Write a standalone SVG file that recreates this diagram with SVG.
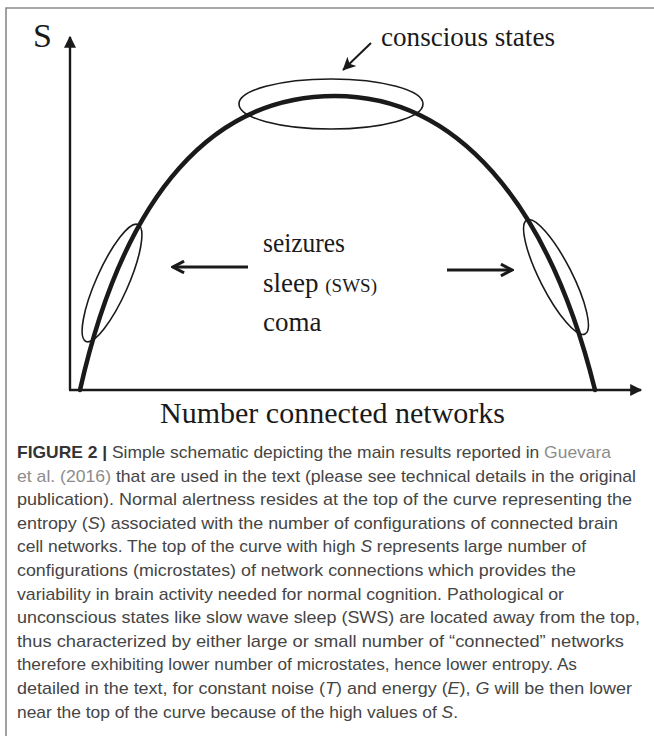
<svg xmlns="http://www.w3.org/2000/svg" width="654" height="736" viewBox="0 0 654 736">
<style>
.frame{stroke:#8a8a8a;stroke-width:1.6;fill:none}
.axis{stroke:#1a1a1a;stroke-width:2.4;fill:none}
.curve{stroke:#1a1a1a;stroke-width:4.5;fill:none;stroke-linecap:round}
.ell{stroke:#1a1a1a;stroke-width:1.6;fill:none}
.arr{stroke:#1a1a1a;stroke-width:3;fill:none}
.lbl{font-family:"Liberation Serif","DejaVu Serif",serif;fill:#1a1a1a}
.cap{font-family:"Liberation Sans",Arial,sans-serif;font-size:17px;fill:#454545}
.b{font-weight:bold;fill:#333}
.lnk{fill:#8c8c8c}
.i{font-style:italic}
</style>
<defs>
<marker id="tri" viewBox="0 0 10 10" refX="9" refY="5" markerUnits="userSpaceOnUse" markerWidth="18" markerHeight="12" orient="auto">
<path d="M0,0 L10,5 L0,10 z" fill="#1a1a1a"/>
</marker>
<marker id="tri2" viewBox="0 0 10 10" refX="9.5" refY="5" markerUnits="userSpaceOnUse" markerWidth="17" markerHeight="13" orient="auto">
<path d="M0,0 L10,5 L0,10 L2.5,5 z" fill="#1a1a1a"/>
</marker>
<marker id="chev" viewBox="0 0 12 12" refX="10.5" refY="6" markerUnits="userSpaceOnUse" markerWidth="14" markerHeight="14" orient="auto">
<path d="M1,1 L10.5,6 L1,11" fill="none" stroke="#1a1a1a" stroke-width="2.6"/>
</marker>
</defs>
<g id="frame">
<path class="frame" d="M6,736 L6,8 L654,8"/>
</g>
<g id="connectors">
<line id="y-axis" class="axis" x1="70" y1="390" x2="70" y2="37" marker-end="url(#tri)"/>
<line id="x-axis" class="axis" x1="69" y1="390" x2="641" y2="390" marker-end="url(#tri)"/>
<line id="conscious-arrow" x1="371" y1="43" x2="343" y2="70" stroke="#1a1a1a" stroke-width="2" marker-end="url(#tri2)"/>
<line id="left-arrow" class="arr" x1="248" y1="267" x2="173" y2="267" marker-end="url(#chev)"/>
<line id="right-arrow" class="arr" x1="447" y1="270" x2="512" y2="270" marker-end="url(#chev)"/>
</g>
<g id="curve">
<path class="curve" d="M80,390 C125,190 215,96 335,96 C455,96 548,200 595,390"/>
</g>
<g id="conscious-states">
<ellipse class="ell" cx="331" cy="104" rx="92" ry="25"/>
<text class="lbl" x="381" y="46" font-size="28" textLength="174" lengthAdjust="spacingAndGlyphs">conscious states</text>
</g>
<g id="left-states">
<ellipse class="ell" cx="112" cy="283" rx="64" ry="16" transform="rotate(-66 112 283)"/>
</g>
<g id="right-states">
<ellipse class="ell" cx="556" cy="277" rx="64" ry="16" transform="rotate(63 556 277)"/>
</g>
<g id="labels">
<text class="lbl" x="33" y="47" font-size="34">S</text>
<text class="lbl" x="263" y="252" font-size="27" textLength="82" lengthAdjust="spacingAndGlyphs">seizures</text>
<text class="lbl" x="263" y="292" font-size="27">sleep <tspan font-size="19">(SWS)</tspan></text>
<text class="lbl" x="263" y="331" font-size="27">coma</text>
<text class="lbl" x="160" y="423" font-size="30" textLength="345" lengthAdjust="spacingAndGlyphs">Number connected networks</text>
</g>
<g id="caption" class="cap">
<text x="17" y="458" textLength="594" lengthAdjust="spacingAndGlyphs"><tspan class="b">FIGURE 2 |</tspan> Simple schematic depicting the main results reported in <tspan class="lnk">Guevara</tspan></text>
<text x="17" y="481.6" textLength="619" lengthAdjust="spacingAndGlyphs"><tspan class="lnk">et al. (2016)</tspan> that are used in the text (please see technical details in the original</text>
<text x="17" y="505.2" textLength="615" lengthAdjust="spacingAndGlyphs">publication). Normal alertness resides at the top of the curve representing the</text>
<text x="17" y="528.8" textLength="601" lengthAdjust="spacingAndGlyphs">entropy (<tspan class="i">S</tspan>) associated with the number of configurations of connected brain</text>
<text x="17" y="552.4" textLength="569" lengthAdjust="spacingAndGlyphs">cell networks. The top of the curve with high <tspan class="i">S</tspan> represents large number of</text>
<text x="17" y="576" textLength="559" lengthAdjust="spacingAndGlyphs">configurations (microstates) of network connections which provides the</text>
<text x="17" y="599.6" textLength="547" lengthAdjust="spacingAndGlyphs">variability in brain activity needed for normal cognition. Pathological or</text>
<text x="17" y="623.2" textLength="623" lengthAdjust="spacingAndGlyphs">unconscious states like slow wave sleep (SWS) are located away from the top,</text>
<text x="17" y="646.8" textLength="607" lengthAdjust="spacingAndGlyphs">thus characterized by either large or small number of “connected” networks</text>
<text x="17" y="670.4" textLength="560" lengthAdjust="spacingAndGlyphs">therefore exhibiting lower number of microstates, hence lower entropy. As</text>
<text x="17" y="694" textLength="615" lengthAdjust="spacingAndGlyphs">detailed in the text, for constant noise (<tspan class="i">T</tspan>) and energy (<tspan class="i">E</tspan>), <tspan class="i">G</tspan> will be then lower</text>
<text x="17" y="717.6" textLength="441" lengthAdjust="spacingAndGlyphs">near the top of the curve because of the high values of <tspan class="i">S</tspan>.</text>
</g>
</svg>
